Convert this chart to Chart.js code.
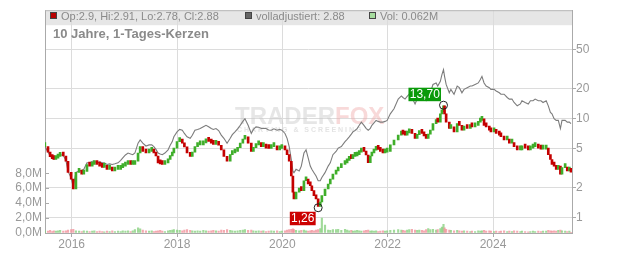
<!DOCTYPE html>
<html><head><meta charset="utf-8">
<script src="https://cdn.jsdelivr.net/npm/chart.js@4"></script>
<style>html,body{margin:0;padding:0;background:#fff}#wrap{width:632px;height:253px}</style>
</head><body><div id="wrap"><canvas id="c" width="632" height="253"></canvas></div>
<script>
// ---- data (decimal years) ----
const dates = [
 2015.49,2015.55,2015.59,2015.63,2015.66,2015.70,2015.74,2015.78,2015.84,2015.89,2015.93,2015.99,
 2016.03,2016.08,2016.14,2016.19,2016.23,2016.29,2016.34,2016.39,2016.43,2016.48,2016.53,2016.58,2016.62,2016.67,2016.72,2016.77,2016.82,2016.88,2016.93,2016.97,
 2017.02,2017.07,2017.12,2017.16,2017.20,2017.26,2017.30,2017.35,2017.41,2017.47,2017.52,2017.56,2017.60,2017.64,2017.68,2017.72,2017.77,2017.83,2017.87,2017.91,2017.94,
 2018.00,2018.05,2018.10,2018.14,2018.19,2018.25,2018.29,2018.34,2018.39,2018.44,2018.50,2018.55,2018.60,2018.65,2018.69,2018.74,2018.79,2018.84,2018.89,2018.95,
 2019.01,2019.05,2019.10,2019.15,2019.20,2019.25,2019.29,2019.35,2019.41,2019.45,2019.50,2019.55,2019.60,2019.64,2019.69,2019.74,2019.79,2019.84,2019.90,2019.95,2019.99,
 2020.05,2020.09,2020.13,2020.17,2020.20,2020.22,2020.26,2020.32,2020.36,2020.41,2020.45,2020.49,2020.53,2020.56,2020.60,2020.64,2020.68,2020.72,2020.75,2020.81,2020.87,2020.91,2020.96,
 2021.02,2021.06,2021.12,2021.19,2021.23,2021.27,2021.31,2021.34,2021.38,2021.42,2021.46,2021.50,2021.55,2021.59,2021.63,2021.67,2021.70,2021.74,2021.78,2021.82,2021.86,2021.91,2021.95,2021.99,
 2022.05,2022.12,2022.20,2022.26,2022.29,2022.33,2022.37,2022.41,2022.46,2022.52,2022.56,2022.60,2022.65,2022.69,2022.73,2022.77,2022.81,2022.86,2022.92,2022.95,
 2023.00,2023.03,2023.06,2023.08,2023.11,2023.17,2023.20,2023.26,2023.32,2023.36,2023.41,2023.45,2023.51,2023.57,2023.60,2023.66,2023.72,2023.76,2023.79,2023.83,2023.87,2023.93,2023.96,
 2024.02,2024.06,2024.12,2024.15,2024.21,2024.27,2024.31,2024.36,2024.40,2024.46,2024.52,2024.55,2024.61,2024.67,2024.71,2024.76,2024.80,2024.86,2024.91,2024.95,
 2025.01,2025.05,2025.09,2025.12,2025.16,2025.20,2025.24,2025.28,2025.31,2025.37,2025.41,2025.45,2025.48
];
const closes = [
 5.23,4.60,4.14,3.95,3.87,4.00,4.17,4.33,4.20,3.72,2.87,2.45,
 1.95,2.87,2.96,2.75,2.94,3.45,3.32,3.45,3.58,3.45,3.32,3.22,3.32,3.08,3.20,2.96,3.08,3.08,3.20,3.32,
 3.45,3.58,3.45,3.45,3.72,4.50,5.23,4.67,4.50,4.67,4.85,4.50,4.20,3.58,3.50,3.45,3.58,3.87,4.20,4.50,5.05,
 5.87,6.00,5.66,5.20,4.50,4.17,4.60,5.23,5.44,5.44,5.70,6.10,5.90,5.66,5.50,5.66,5.40,4.85,4.17,3.72,
 4.33,4.50,4.67,5.10,5.66,6.20,6.57,5.66,4.67,5.10,5.44,5.50,5.23,5.30,5.05,5.00,5.23,5.30,4.85,5.00,5.05,
 4.85,4.33,3.72,2.64,1.81,1.55,1.81,1.95,1.88,2.36,2.45,2.19,2.10,1.88,1.67,1.55,1.30,1.44,1.67,1.95,2.19,2.45,2.75,
 2.96,3.20,3.45,3.58,3.80,4.02,3.95,4.17,4.20,4.33,4.60,4.93,4.67,4.30,3.60,4.20,4.50,4.80,5.16,4.90,4.67,4.50,4.60,4.67,
 5.44,6.10,6.83,7.37,7.00,6.83,7.20,7.66,7.10,6.34,6.90,7.37,7.10,6.70,6.34,7.00,7.66,8.92,9.62,9.25,
 11.2,11.8,13.5,11.2,9.25,7.96,8.26,7.37,8.92,8.58,7.66,8.26,7.96,8.58,8.26,8.58,9.25,9.62,10.0,8.58,8.26,7.66,7.37,
 7.37,7.10,6.83,6.57,6.10,6.10,5.66,5.66,5.23,4.85,4.85,5.23,5.05,4.85,5.05,5.23,5.23,5.05,4.93,4.93,
 5.05,4.33,3.87,3.45,3.32,3.08,3.32,2.75,3.20,3.20,2.96,3.08,2.88
];
const adjusted = [
 5.23,4.60,4.20,4.00,3.90,4.05,4.20,4.33,4.25,3.80,2.95,2.50,
 2.04,2.87,2.96,3.00,3.08,3.58,3.58,3.72,3.72,3.58,3.66,3.58,3.58,3.45,3.50,3.45,3.50,3.58,3.80,4.02,
 4.30,4.50,4.40,4.33,4.50,5.66,6.10,5.66,5.30,5.44,5.44,5.23,4.90,4.50,4.40,4.33,4.50,4.85,5.40,5.87,6.57,
 7.37,7.80,7.66,7.10,6.57,6.34,6.80,7.66,7.80,7.96,8.30,8.58,8.30,7.96,7.80,7.96,7.60,6.83,6.34,5.66,
 6.34,6.90,7.37,7.90,8.58,9.40,10.0,8.58,7.10,7.80,8.26,8.20,7.96,8.00,7.96,7.70,7.66,7.90,7.66,7.80,7.66,
 7.10,6.34,5.23,3.87,2.96,2.85,3.08,2.96,3.32,4.50,4.85,4.02,3.32,3.08,2.85,2.64,2.36,2.36,2.55,2.85,3.32,3.58,4.33,
 4.67,5.05,5.23,5.87,6.20,6.57,7.00,7.37,7.60,7.96,8.60,9.25,8.58,8.00,7.66,8.00,8.58,9.10,9.62,9.40,9.25,9.25,9.40,9.62,
 11.2,12.6,15.8,17.0,16.4,15.8,16.8,17.7,16.4,14.1,15.8,17.0,16.4,15.8,15.2,16.8,18.3,22.2,23.0,21.4,
 23.9,27.9,31.3,26.8,22.2,18.3,19.8,17.7,21.4,20.6,18.3,19.8,20.6,21.4,21.4,22.2,23.0,24.9,26.8,23.0,21.4,20.6,19.8,
 19.8,19.1,18.3,17.7,17.7,16.4,15.8,15.8,14.6,13.5,14.1,15.2,14.6,14.1,15.2,15.2,15.8,15.2,15.2,14.6,
 15.2,13.5,11.6,11.2,10.0,9.62,9.62,7.96,9.62,9.62,9.25,9.25,8.92
];
const volumes = [
 0.30,0.25,0.35,0.20,0.30,0.25,0.30,0.35,0.25,0.30,0.40,0.45,
 0.50,0.30,0.25,0.20,0.30,0.25,0.20,0.25,0.30,0.20,0.25,0.20,0.15,0.25,0.20,0.30,0.20,0.25,0.20,0.30,
 0.25,0.30,0.20,0.30,0.45,0.70,0.55,0.40,0.30,0.25,0.30,0.20,0.25,0.30,0.35,0.25,0.20,0.30,0.35,0.40,0.45,
 0.40,0.35,0.30,0.40,0.45,0.35,0.30,0.25,0.30,0.25,0.35,0.30,0.25,0.30,0.35,0.30,0.25,0.40,0.35,0.45,
 0.35,0.30,0.25,0.30,0.35,0.40,0.45,0.35,0.40,0.30,0.25,0.30,0.25,0.30,0.20,0.25,0.30,0.25,0.30,0.20,0.25,
 0.30,0.40,0.45,0.50,0.55,0.45,0.35,0.30,0.35,0.40,0.30,0.25,0.30,0.35,0.30,0.40,0.45,0.60,2.00,1.05,0.40,0.35,0.45,
 0.45,0.50,0.35,0.50,0.40,0.30,0.35,0.25,0.30,0.35,0.30,0.25,0.30,0.35,0.40,0.25,0.30,0.25,0.30,0.20,0.25,0.30,0.25,0.30,
 0.35,0.40,0.45,0.40,0.35,0.30,0.40,0.45,0.50,0.40,0.35,0.40,0.35,0.30,0.45,0.60,0.45,0.50,0.40,0.45,
 0.60,0.80,1.15,0.70,0.50,0.40,0.35,0.30,0.35,0.30,0.25,0.30,0.25,0.20,0.25,0.20,0.30,0.25,0.30,0.35,0.25,0.30,0.25,
 0.20,0.25,0.20,0.25,0.30,0.20,0.25,0.20,0.30,0.25,0.20,0.25,0.20,0.15,0.20,0.25,0.20,0.25,0.20,0.25,
 0.25,0.35,0.30,0.25,0.30,0.25,0.35,0.40,0.30,0.25,0.20,0.25,0.06
];
const peak = {t: 2023.06, v: 13.70};
const trough = {t: 2020.68, v: 1.26};
const yearTicks = [2016, 2018, 2020, 2022, 2024];
const priceTicks = [1, 2, 5, 10, 20, 50];
const volTicks = [0, 2, 4, 6, 8];
const titleText = '10 Jahre, 1-Tages-Kerzen';
const legendItems = [
  {text: 'Op:2.9, Hi:2.91, Lo:2.78, Cl:2.88', color: '#b80000'},
  {text: 'volladjustiert: 2.88', color: '#666666'},
  {text: 'Vol: 0.062M', color: '#a6dc9e'}
];

// ---- styles ----
const FONT = "'Liberation Sans', Arial, sans-serif";
Chart.defaults.font.family = FONT;
const RED = '#c40000', GREEN = '#3fae2a';
const VRED = 'rgba(240,140,150,0.75)', VGREEN = 'rgba(130,205,120,0.75)';
const AX = '#999';

const up = closes.map((c, i) => i === 0 || c >= closes[i - 1]);
const candleData = dates.map((t, i) => ({x: t, y: [i ? closes[i - 1] : closes[i], closes[i]]}));
const lineData = dates.map((t, i) => ({x: t, y: adjusted[i]}));
const volData = dates.map((t, i) => ({x: t, y: volumes[i]}));

const deco = {
  id: 'deco',
  beforeDraw(chart) {
    const ctx = chart.ctx, a = chart.chartArea;
    ctx.save();
    ctx.fillStyle = '#e6e6e6';
    ctx.fillRect(a.left, a.top, a.right - a.left, 15);
    ctx.restore();
  },
  beforeDatasetsDraw(chart) {
    const ctx = chart.ctx, a = chart.chartArea;
    ctx.save();
    ctx.strokeStyle = '#b8b8b8'; ctx.lineWidth = 1;
    ctx.beginPath(); ctx.moveTo(a.left, a.top + 0.5); ctx.lineTo(a.right, a.top + 0.5); ctx.stroke();
    ctx.font = '11px ' + FONT; ctx.textBaseline = 'alphabetic';
    const lx = [50, 245, 369];
    legendItems.forEach((it, i) => {
      ctx.fillStyle = it.color; ctx.fillRect(lx[i], 12, 7, 7);
      ctx.strokeStyle = '#444'; ctx.strokeRect(lx[i] + 0.5, 12.5, 6, 6);
      ctx.fillStyle = '#8a8a8a'; ctx.fillText(it.text, lx[i] + 11, 19.5);
    });
    ctx.font = 'bold 13px ' + FONT; ctx.fillStyle = '#8a8a8a';
    ctx.fillText(titleText, 53, 38);
    ctx.font = 'bold 24px ' + FONT;
    ctx.fillStyle = 'rgba(200,200,200,0.45)';
    ctx.fillText('TRADER', 235, 124);
    const w = ctx.measureText('TRADER').width;
    ctx.fillStyle = 'rgba(240,170,170,0.45)';
    ctx.fillText('FOX', 235 + w, 124);
    ctx.font = 'bold 7px ' + FONT; ctx.fillStyle = 'rgba(200,200,200,0.5)';
    ctx.fillText('C H A R T I N G   &   S C R E E N I N G', 237, 132);
    const yv = chart.scales.yV;
    ctx.strokeStyle = '#aaa';
    volTicks.forEach(v => {
      const y = Math.round(yv.getPixelForValue(v)) + 0.5;
      ctx.beginPath(); ctx.moveTo(a.left, y); ctx.lineTo(a.left + 4, y); ctx.stroke();
    });
    ctx.restore();
  },
  afterDatasetsDraw(chart) {
    const ctx = chart.ctx, xs = chart.scales.x, yp = chart.scales.yP;
    function mark(pt, color, above) {
      const px = xs.getPixelForValue(pt.t), py = yp.getPixelForValue(pt.v);
      ctx.save();
      ctx.beginPath(); ctx.arc(px, py, 4, 0, Math.PI * 2);
      ctx.strokeStyle = '#222'; ctx.lineWidth = 1; ctx.stroke();
      const text = pt.v.toFixed(2).replace('.', ',');
      ctx.font = '12px ' + FONT;
      const w = ctx.measureText(text).width + 2.5, h = 13.5;
      const bx = px - 2.5 - w, by = above ? py - 4 - h : py + 4;
      ctx.fillStyle = color; ctx.fillRect(bx, by, w, h);
      ctx.fillStyle = '#fff'; ctx.textBaseline = 'middle';
      ctx.fillText(text, bx + 1.3, by + h / 2 + 0.5);
      ctx.restore();
    }
    mark(peak, '#0a9a0a', true);
    mark(trough, '#cc0000', false);
  }
};

new Chart(document.getElementById('c'), {
  type: 'bar',
  data: {
    datasets: [
      {type: 'bar', data: candleData, yAxisID: 'yP', order: 0, grouped: false,
       backgroundColor: up.map(u => u ? GREEN : RED), borderWidth: 0,
       barThickness: 2, minBarLength: 4},
      {type: 'line', data: lineData, yAxisID: 'yP', order: 1,
       borderColor: '#7c7c7c', borderWidth: 1.1, pointRadius: 0, tension: 0, fill: false},
      {type: 'bar', data: volData, yAxisID: 'yV', order: 2, grouped: false,
       backgroundColor: up.map(u => u ? VGREEN : VRED), borderWidth: 0, barThickness: 1.5}
    ]
  },
  options: {
    responsive: false, animation: false, devicePixelRatio: 1,
    layout: {padding: {top: 8, left: 0, right: 0, bottom: 0}},
    plugins: {legend: {display: false}, tooltip: {enabled: false}},
    scales: {
      x: {type: 'linear', min: 2015.493, max: 2025.50, offset: false,
          afterBuildTicks: s => { s.ticks = yearTicks.map(v => ({value: v})); },
          afterFit: s => { s.height = 20; },
          ticks: {callback: v => String(v), color: AX, font: {size: 12}, padding: 0, maxRotation: 0, autoSkip: false},
          grid: {color: '#dcdcdc', tickColor: '#aaa', tickLength: 4, offset: false},
          border: {color: '#aaa'}},
      yP: {type: 'logarithmic', position: 'right', min: 0.731, max: 125,
          afterBuildTicks: s => { s.ticks = priceTicks.map(v => ({value: v})); },
          afterFit: s => { s.width = 60; },
          ticks: {callback: v => String(v), color: AX, font: {size: 12}, padding: 0, autoSkip: false},
          grid: {color: '#dcdcdc', tickColor: '#aaa', tickLength: 4},
          border: {color: '#aaa'}},
      yV: {type: 'linear', position: 'left', min: 0, max: 29.8,
          afterBuildTicks: s => { s.ticks = volTicks.map(v => ({value: v})); },
          afterFit: s => { s.width = 45; },
          ticks: {callback: v => v.toFixed(1).replace('.', ',') + 'M', color: AX, font: {size: 12}, padding: 3, autoSkip: false},
          grid: {drawOnChartArea: false, drawTicks: false},
          border: {color: '#aaa'}}
    }
  },
  plugins: [deco]
});
</script></body></html>
